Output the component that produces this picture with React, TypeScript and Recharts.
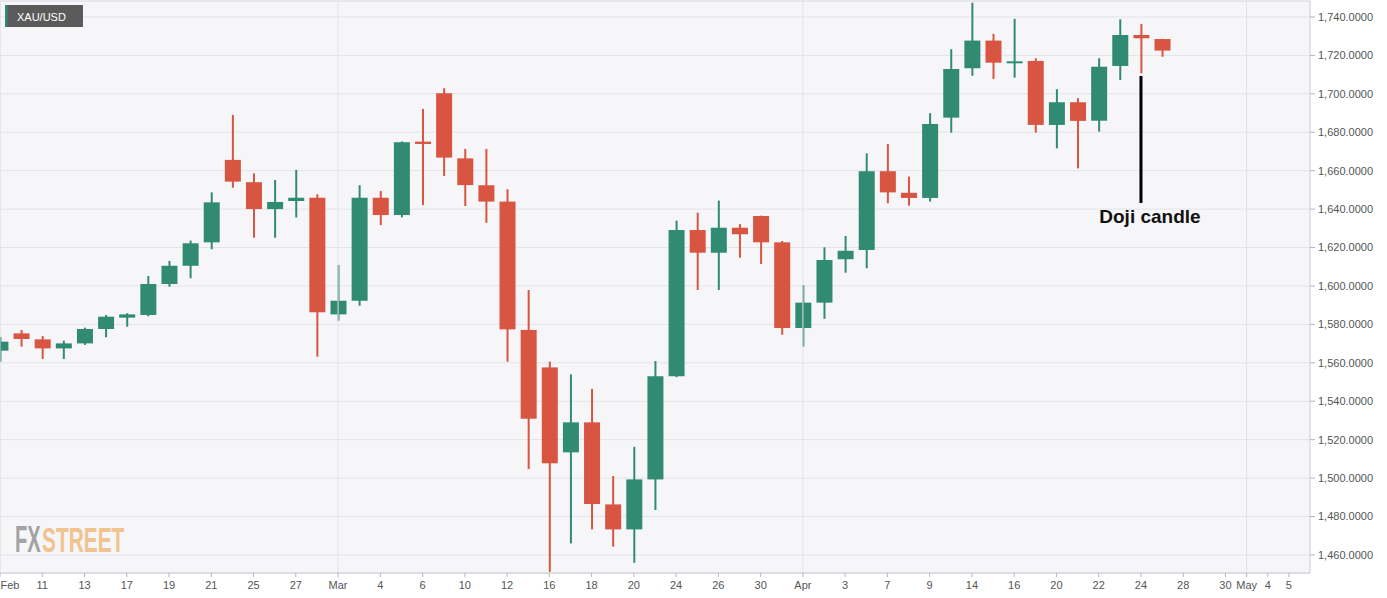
import React from 'react';
import { ComposedChart, Bar, XAxis, YAxis, CartesianGrid, ReferenceLine } from 'recharts';

// ---- data ----
const opens = [
  1566.3, 1575.3, 1572.2, 1567.5, 1570.1, 1577.6, 1583.5, 1584.9, 1601.0, 1610.5,
  1622.7, 1665.6, 1654.0, 1640.0, 1644.2, 1645.9, 1585.2, 1592.3, 1645.9, 1636.9,
  1675.1, 1700.3, 1666.4, 1652.4, 1643.9, 1577.1, 1557.6, 1513.4, 1529.0, 1486.3,
  1473.3, 1499.3, 1553.0, 1629.1, 1617.3, 1630.3, 1636.4, 1622.7, 1578.1, 1591.3,
  1613.9, 1618.7, 1659.7, 1648.5, 1645.8, 1687.6, 1713.3, 1727.7, 1716.0, 1717.1,
  1683.8, 1695.6, 1686.0, 1714.5, 1730.6, 1728.5,
];
const highs = [
  1573.4, 1577.1, 1573.9, 1571.5, 1578.3, 1584.9, 1585.8, 1605.2, 1613.0, 1623.6,
  1648.7, 1689.0, 1658.6, 1655.1, 1660.4, 1647.7, 1610.9, 1652.4, 1649.4, 1675.2,
  1692.1, 1702.9, 1671.3, 1671.3, 1650.3, 1597.9, 1560.6, 1554.0, 1546.4, 1501.1,
  1516.3, 1560.9, 1634.0, 1638.1, 1644.4, 1632.2, 1636.6, 1623.4, 1600.5, 1620.1,
  1626.0, 1669.0, 1673.9, 1656.9, 1689.9, 1723.2, 1747.4, 1731.2, 1739.0, 1718.5,
  1702.4, 1697.7, 1718.5, 1738.8, 1736.4, 1728.6,
];
const lows = [
  1560.6, 1568.4, 1562.0, 1562.0, 1569.3, 1573.3, 1578.8, 1584.2, 1599.6, 1604.0,
  1619.1, 1651.1, 1625.1, 1625.1, 1635.6, 1563.2, 1581.9, 1589.7, 1631.7, 1635.7,
  1642.1, 1657.2, 1641.6, 1632.9, 1560.6, 1504.7, 1451.2, 1466.0, 1473.3, 1464.3,
  1455.9, 1483.4, 1552.5, 1597.9, 1597.9, 1614.7, 1611.4, 1574.6, 1568.4, 1582.9,
  1606.9, 1609.2, 1643.0, 1641.8, 1643.9, 1679.8, 1709.4, 1707.7, 1708.4, 1679.8,
  1671.6, 1661.2, 1680.3, 1707.2, 1710.7, 1719.3,
];
const closes = [
  1571.0, 1572.4, 1567.5, 1570.1, 1577.6, 1584.0, 1585.2, 1601.0, 1610.5, 1622.2,
  1643.5, 1654.3, 1640.0, 1643.7, 1645.9, 1586.3, 1592.3, 1645.9, 1636.9, 1674.8,
  1673.9, 1666.8, 1652.5, 1643.9, 1577.4, 1530.9, 1507.7, 1529.0, 1486.5, 1473.3,
  1499.3, 1553.0, 1629.1, 1617.3, 1630.3, 1626.9, 1622.7, 1578.1, 1591.3, 1613.5,
  1618.3, 1659.7, 1648.7, 1645.8, 1684.3, 1712.9, 1727.7, 1716.2, 1716.8, 1683.8,
  1695.6, 1685.9, 1714.1, 1730.6, 1728.9, 1722.5,
];

const tickIndices = [0, 2, 4, 6, 8, 10, 12, 14, 16, 18, 20, 22, 24, 26, 28, 30, 32, 34, 36, 38, 40, 42, 44, 46, 48, 50, 52, 54, 56, 58, 59, 60, 61];
const tickLabels = ['Feb', '11', '13', '17', '19', '21', '25', '27', 'Mar', '4', '6', '10', '12', '16', '18', '20', '24', '26', '30', 'Apr', '3', '7', '9', '14', '16', '20', '22', '24', '28', '30', 'May', '4', '5'];
const monthStarts = [16, 38, 59];
const xDomain = [0, 62];

const yTicks = [1460, 1480, 1500, 1520, 1540, 1560, 1580, 1600, 1620, 1640, 1660, 1680, 1700, 1720, 1740];
const yDomain = [1450.6, 1748.3];

const dojiIndex = 54;
const dojiLineTop = 1709.3;
const dojiLineBottom = 1643.2;
const dojiText = 'Doji candle';

const symbol = 'XAU/USD';

const GREEN = '#318a72';
const RED = '#d75541';

const data = opens.map((o, i) => ({ i, open: o, high: highs[i], low: lows[i], close: closes[i] }));

const Candle = (props: any) => {
  const { x, y, width, height, payload } = props;
  if (!payload) return null;
  const { open, close, high, low } = payload;
  const cx = x + width / 2;
  const ppu = high === low ? 0 : height / (high - low);
  const color = close >= open ? GREEN : RED;
  let top = y + (high - Math.max(open, close)) * ppu;
  let bh = Math.abs(open - close) * ppu;
  if (bh < 2) {
    top -= (2 - bh) / 2;
    bh = 2;
  }
  return (
    <g>
      <rect x={cx - 1} y={y} width={2} height={Math.max(height, 1)} fill={color} />
      <rect x={cx - 8} y={top} width={16} height={bh} fill={color} />
    </g>
  );
};

const XTick = (props: any) => {
  const { x, y, payload } = props;
  const k = tickIndices.indexOf(payload.value);
  const label = k >= 0 ? tickLabels[k] : '';
  return (
    <text x={payload.value === 0 ? x + 0.5 : x} y={y} dy="0.71em" textAnchor={payload.value === 0 ? 'start' : 'middle'} fill="#555" fontSize={11}>
      {label}
    </text>
  );
};

const DojiLabel = (props: any) => {
  const vb = props.viewBox || {};
  const x = (vb.x ?? 0) + (vb.width ?? 0) / 2;
  const y = (vb.y ?? 0) + (vb.height ?? 0);
  return (
    <text x={x + 9} y={y + 20} textAnchor="middle" fontSize={19} fontWeight="bold" fill="#111">
      {dojiText}
    </text>
  );
};

const fmt = (v: number) => v.toLocaleString('en-US', { minimumFractionDigits: 4, maximumFractionDigits: 4 });

export default function App() {
  return (
    <div style={{ position: 'absolute', left: 0, top: 0, width: 1387, height: 598, background: '#fff', fontFamily: '"Liberation Sans", Arial, sans-serif', overflow: 'hidden' }}>
      <ComposedChart width={1387} height={598} data={data} margin={{ top: 1, right: 0, bottom: 0, left: 0 }}>
        <CartesianGrid vertical={false} stroke="#e4e4e8" fill="#f6f6f8" />
        <XAxis
          dataKey="i"
          type="number"
          domain={xDomain}
          ticks={tickIndices}
          interval={0}
          allowDataOverflow
          height={25}
          tickSize={4}
          tickMargin={4}
          axisLine={{ stroke: '#cdcdd4' }}
          tickLine={{ stroke: '#b5b5bd' }}
          tick={<XTick />}
        />
        <YAxis
          orientation="right"
          width={77}
          domain={yDomain}
          ticks={yTicks}
          allowDataOverflow
          tickSize={5}
          tickMargin={3}
          tickFormatter={fmt}
          axisLine={{ stroke: '#cdcdd4' }}
          tickLine={{ stroke: '#b5b5bd' }}
          tick={{ fill: '#555', fontSize: 11 }}
        />
        {monthStarts.map((m) => (
          <ReferenceLine key={m} x={m} stroke="#e2e2e7" />
        ))}
        <ReferenceLine x={0} stroke="#d6d6e2" />
        <ReferenceLine y={yDomain[1]} stroke="#dedee8" />
        <Bar dataKey={(d: any) => [d.low, d.high]} barSize={16} shape={<Candle />} isAnimationActive={false} />
        <ReferenceLine
          segment={[{ x: dojiIndex, y: dojiLineTop }, { x: dojiIndex, y: dojiLineBottom }]}
          stroke="#000"
          strokeWidth={3}
          label={<DojiLabel />}
        />
      </ComposedChart>
      <svg width={1387} height={598} style={{ position: 'absolute', left: 0, top: 0, pointerEvents: 'none' }}>
        <rect x={5} y={5} width={78} height={22} fill="#5a5a5a" />
        <rect x={5} y={5} width={2.5} height={22} fill={GREEN} />
        <text x={17} y={20.5} fill="#fff" fontSize={11}>{symbol}</text>
        <text transform="translate(15 552.3) scale(0.56 1)" fontSize={36} fontWeight="bold" fill="#a3a3a3">FX</text>
        <text transform="translate(42 552.3) scale(0.58 1)" fontSize={36} fontWeight="bold" fill="#f0c38f">STREET</text>
      </svg>
    </div>
  );
}
